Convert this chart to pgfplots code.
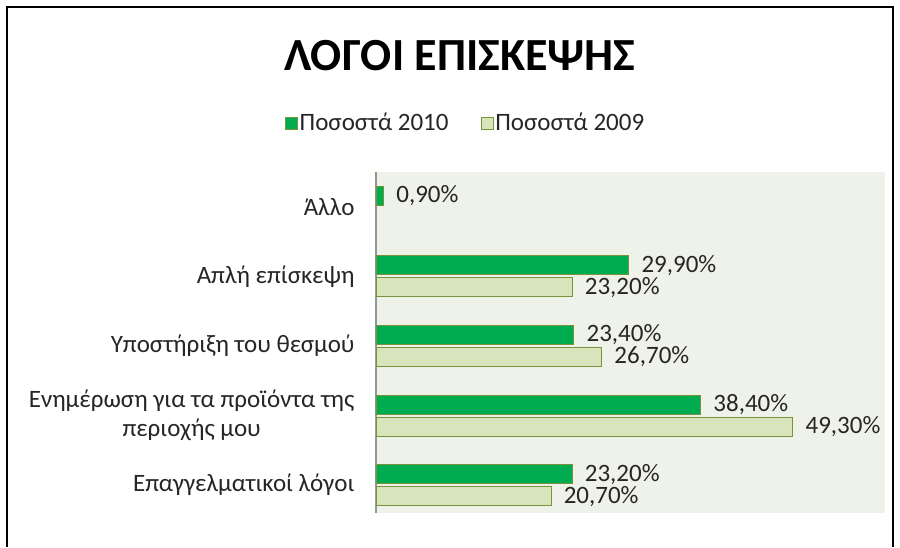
\documentclass[border=0pt]{standalone}
\usepackage{fontspec}
\setmainfont{Carlito}
\usepackage{pgfplots}
\pgfplotsset{compat=1.18}
\definecolor{bar2010}{RGB}{0,172,80}
\definecolor{bar2009}{RGB}{216,228,188}
\definecolor{barborder}{RGB}{119,147,60}
\definecolor{plotbg}{RGB}{239,242,233}
\definecolor{axisgray}{RGB}{150,150,150}
\definecolor{txt}{RGB}{38,38,38}

\begin{document}
\begin{tikzpicture}
\useasboundingbox (0,0) rectangle (900pt,547pt);
\fill[white] (0,0) rectangle (900pt,547pt);
\draw[line width=2.5pt] (7pt,0) -- (7pt,540pt) -- (893pt,540pt) -- (893pt,0);
\node[font=\fontsize{46}{52}\selectfont\bfseries] at (460pt,491pt) {ΛΟΓΟΙ ΕΠΙΣΚΕΨΗΣ};
\begin{axis}[
    at={(376pt,34pt)}, anchor=south west,
    scale only axis, width=509pt, height=341pt,
    xbar, bar width=19pt,
    xmin=0, xmax=60.2, ymin=-0.4, ymax=4.5,
    axis lines*=left,
    x axis line style={draw=none},
    y axis line style={draw=axisgray, line width=1.2pt},
    axis background/.style={fill=plotbg},
    xtick=\empty,
    ytick={0,1,2,3,4},
    yticklabels={Επαγγελματικοί λόγοι, {Ενημέρωση για τα προϊόντα της\\περιοχής μου}, Υποστήριξη του θεσμού, Απλή επίσκεψη, Άλλο},
    major tick length=0pt,
    yticklabel style={font=\fontsize{25}{29}\selectfont, align=center, text=txt, xshift=-18pt},
    point meta=explicit symbolic,
    nodes near coords,
    nodes near coords style={font=\fontsize{25}{29}\selectfont, text=txt, anchor=west, xshift=9pt},
    clip=false,
    legend columns=2,
    legend style={at={(0.176,1.144)}, anchor=center, draw=none, fill=none,
        font=\fontsize{25}{29}\selectfont, text=txt,
        /tikz/every even column/.append style={column sep=30pt}},
    legend image code/.code={\draw[#1,line width=0.8pt] (0pt,-6pt) rectangle (12pt,6pt);},
]
\addplot[fill=bar2010, draw=barborder, line width=0.8pt, bar shift=11pt] coordinates {
    (0.9,4) [0,90\%]
    (29.9,3) [29,90\%]
    (23.4,2) [23,40\%]
    (38.4,1) [38,40\%]
    (23.2,0) [23,20\%]
};
\addplot[fill=bar2009, draw=barborder, line width=0.8pt, bar shift=-11pt] coordinates {
    (23.2,3) [23,20\%]
    (26.7,2) [26,70\%]
    (49.3,1) [49,30\%]
    (20.7,0) [20,70\%]
};
\legend{Ποσοστά 2010, Ποσοστά 2009}
\end{axis}
\end{tikzpicture}
\end{document}
